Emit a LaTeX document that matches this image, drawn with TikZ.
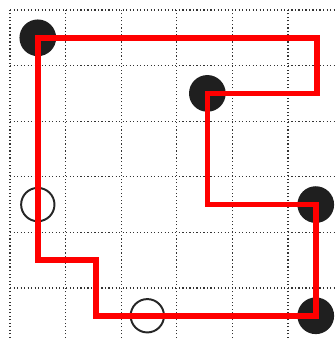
\documentclass[tikz,border=0pt]{standalone}
\usetikzlibrary{arrows.meta}
\tikzset{
  stone/.style={circle, inner sep=0pt, minimum size=0.66cm},
  kblack/.style={stone, fill=black!88},
  kwhite/.style={stone, draw=black!85, line width=1pt, minimum size=0.6cm},
  gridline/.style={dash pattern=on 0.6pt off 1.2pt, line width=0.6pt, black!80},
  route/.style={red, line width=2.9pt, line join=miter},
}

\begin{document}
\begin{tikzpicture}
    \useasboundingbox (-0.18,0.1) rectangle (5.83,6.18);
    \draw[gridline] (0,0.1) grid (5.83,6);
    \node[kblack] (b1) at (0.5,5.5) {};
    \node[kblack] (b2) at (3.55,4.5) {};
    \node[kblack] (b3) at (5.5,2.5) {};
    \node[kblack] (b4) at (5.5,0.5) {};
    \node[kwhite] (w1) at (0.5,2.5) {};
    \node[kwhite] (w2) at (2.47,0.5) {};
    \coordinate (c1) at (5.52,5.5);
    \coordinate (c2) at (5.52,4.5);
    \coordinate (c3) at (3.55,2.5);
    \coordinate (c4) at (1.55,0.5);
    \coordinate (c5) at (1.55,1.5);
    \coordinate (c6) at (0.5,1.5);
    \draw[route] (b1.center) -- (c1) -- (c2) -- (b2.center) -- (c3) -- (b3.center)
      -- (b4.center) -- (c4) -- (c5) -- (c6) -- cycle;
  \end{tikzpicture}
\end{document}
